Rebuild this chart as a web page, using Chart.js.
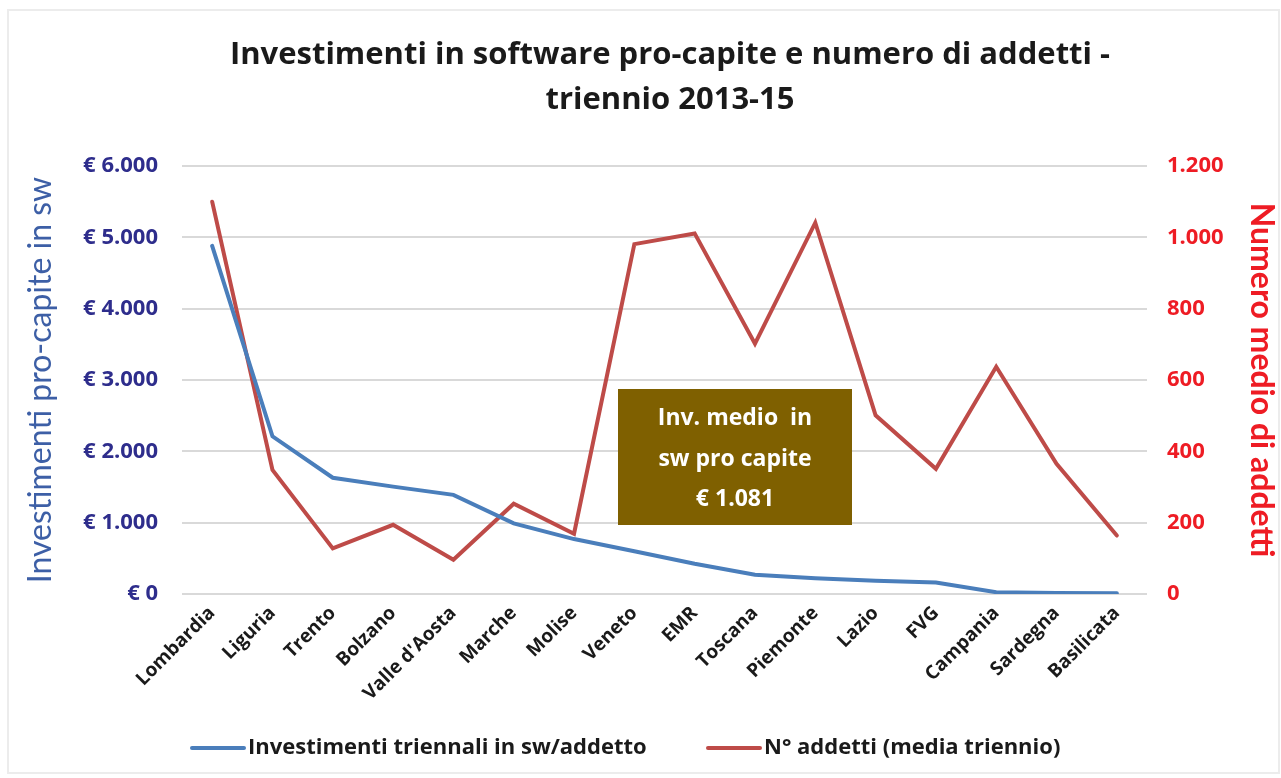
<!DOCTYPE html>
<html>
<head>
<meta charset="utf-8">
<script src="https://cdn.jsdelivr.net/npm/chart.js@4.4.1/dist/chart.umd.min.js"></script>
<style>
  html, body { margin: 0; padding: 0; background: #ffffff; }
  #wrap { width: 1281px; height: 778px; position: relative; }
</style>
</head>
<body>
<div id="wrap"><canvas id="mainChart"></canvas></div>
<script>
// Dati
const regioni = ["Lombardia", "Liguria", "Trento", "Bolzano", "Valle d'Aosta", "Marche", "Molise",
    "Veneto", "EMR", "Toscana", "Piemonte", "Lazio", "FVG", "Campania", "Sardegna", "Basilicata"];
const investimentiProCapite = [4880, 2210, 1630, 1505, 1390, 990, 770, 600, 425, 270, 220, 185, 160, 25, 15, 10];
const numeroAddetti = [1100, 348, 128, 194, 96, 253, 169, 981, 1011, 702, 1041, 501, 351, 637, 365, 164];
const titoloRighe = ["Investimenti in software pro-capite e numero di addetti -", "triennio 2013-15"];
const boxRighe = ["Inv. medio  in", "sw pro capite", "\u20AC 1.081"];

const colors = {
    blue: "#4a7ebb",
    red: "#be4b48",
    leftTicks: "#2e2d8c",
    leftTitle: "#3d5fa6",
    rightRed: "#ee1c24",
    grid: "#d9d9d9",
    box: "#7f6000",
};

const FONT = "'Open Sans', sans-serif";
const FONT_TITOLI_ASSI = "Lato, sans-serif";

// posizione orizzontale di ogni voce della legenda (inizio della linea)
const legendaX = [192, 708];
const legendaY = 748;

function migliaji(v) {
    return String(v).replace(/\B(?=(\d{3})+(?!\d))/g, ".");
}

// Titolo, cornice, legenda e riquadro con la media
const decorPlugin = {
    id: "decor",
    beforeDraw(chart) {
        const c = chart.ctx;
        c.save();
        c.strokeStyle = "#ececec";
        c.lineWidth = 2;
        c.strokeRect(8, 10, 1271, 763);
        c.restore();
    },
    afterDraw(chart) {
        const c = chart.ctx;
        c.save();
        c.fillStyle = "#1a1a1a";
        c.font = "bold 31px " + FONT;
        c.textAlign = "center";
        c.textBaseline = "middle";
        c.fillText(titoloRighe[0], 670, 55);
        c.fillText(titoloRighe[1], 670, 100);

        // riquadro
        c.fillStyle = colors.box;
        c.fillRect(618, 389, 234, 136);
        c.fillStyle = "#ffffff";
        c.font = "bold 23px " + FONT;
        c.fillText(boxRighe[0], 735, 418);
        c.fillText(boxRighe[1], 735, 459);
        c.fillText(boxRighe[2], 735, 499);

        // legenda
        c.textAlign = "left";
        c.font = "bold 22px " + FONT;
        chart.data.datasets.forEach((ds, i) => {
            const x0 = legendaX[i];
            c.strokeStyle = ds.borderColor;
            c.lineWidth = 4;
            c.lineCap = "round";
            c.beginPath();
            c.moveTo(x0, legendaY);
            c.lineTo(x0 + 52, legendaY);
            c.stroke();
            c.fillStyle = "#1a1a1a";
            c.fillText(ds.label, x0 + 56, legendaY);
        });
        c.restore();
    },
};

const ctx = document.getElementById("mainChart").getContext("2d");

new Chart(ctx, {
    type: "line",
    data: {
        labels: regioni,
        datasets: [
            {
                label: "Investimenti triennali in sw/addetto",
                data: investimentiProCapite,
                yAxisID: "y",
                borderColor: colors.blue,
                backgroundColor: colors.blue,
                borderWidth: 4,
                pointRadius: 0,
                pointHoverRadius: 0,
                tension: 0,
                borderCapStyle: "round",
            },
            {
                label: "N\u00B0 addetti (media triennio)",
                data: numeroAddetti,
                yAxisID: "y1",
                borderColor: colors.red,
                backgroundColor: colors.red,
                borderWidth: 4,
                pointRadius: 0,
                pointHoverRadius: 0,
                tension: 0,
                borderCapStyle: "round",
            },
        ],
    },
    options: {
        responsive: true,
        maintainAspectRatio: false,
        animation: false,
        layout: { padding: { top: 166, bottom: 50, left: 0, right: 0 } },
        plugins: {
            title: { display: false },
            tooltip: { enabled: false },
            legend: { display: false },
        },
        scales: {
            x: {
                offset: true,
                grid: { display: false },
                border: { display: false },
                ticks: {
                    color: "#1a1a1a",
                    maxRotation: 45,
                    minRotation: 45,
                    autoSkip: false,
                    padding: 0,
                    font: { size: 19, family: FONT, weight: "bold" },
                },
                afterFit(scale) { scale.height = 778 - 50 - 594; },
            },
            y: {
                position: "left",
                min: 0,
                max: 6000,
                border: { display: false },
                grid: { color: colors.grid, lineWidth: 2, drawTicks: false },
                ticks: {
                    stepSize: 1000,
                    padding: 24,
                    color: colors.leftTicks,
                    font: { size: 22, family: FONT, weight: "bold" },
                    callback: (v) => "\u20AC " + migliaji(v),
                },
                title: {
                    display: true,
                    text: "Investimenti pro-capite in sw",
                    color: colors.leftTitle,
                    padding: { top: 21, bottom: 0 },
                    font: { size: 32, family: FONT_TITOLI_ASSI },
                },
                afterFit(scale) { scale.width = 182; },
            },
            y1: {
                position: "right",
                min: 0,
                max: 1200,
                border: { display: false },
                grid: { display: false, drawTicks: false },
                ticks: {
                    stepSize: 200,
                    padding: 20,
                    color: colors.rightRed,
                    font: { size: 22, family: FONT, weight: "bold" },
                    callback: (v) => migliaji(v),
                },
                title: {
                    display: true,
                    text: "Numero medio di addetti",
                    color: colors.rightRed,
                    padding: { top: 0, bottom: 0 },
                    font: { size: 32, family: FONT_TITOLI_ASSI, weight: "bold" },
                },
                afterFit(scale) { scale.width = 134; },
            },
        },
    },
    plugins: [decorPlugin],
});
</script>
</body>
</html>
